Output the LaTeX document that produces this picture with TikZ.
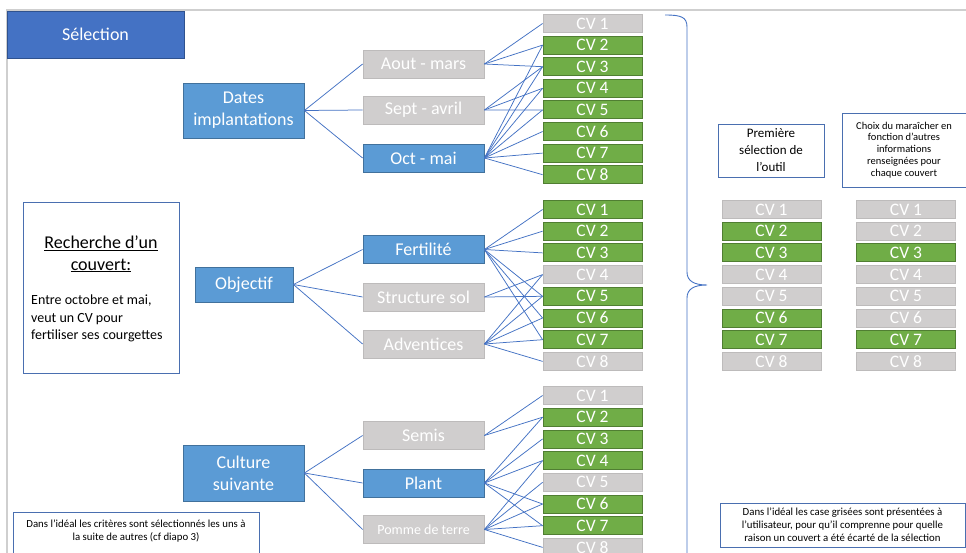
\documentclass[tikz,border=0pt]{standalone}
\usepackage{fontspec}
\setmainfont{Carlito}
\definecolor{selblue}{HTML}{4472C4}
\definecolor{selblueD}{HTML}{2F528F}
\definecolor{mblue}{HTML}{5B9BD5}
\definecolor{mblueD}{HTML}{41719C}
\definecolor{mgray}{HTML}{D0CECE}
\definecolor{mgrayD}{HTML}{BDBBBB}
\definecolor{mgreen}{HTML}{70AD47}
\definecolor{mgreenD}{HTML}{507E32}
\definecolor{lineblue}{HTML}{4472C4}
\definecolor{framegray}{HTML}{CFCFCF}
\definecolor{notebd}{HTML}{4A6FB0}
\newcommand\fbig{\fontsize{18}{22}\selectfont}
\newcommand\fcv{\fontsize{17.5}{20}\selectfont}
\newcommand\fmid{\fontsize{14}{17}\selectfont}
\newcommand\fprem{\fontsize{13}{17}\selectfont}
\newcommand\fsmall{\fontsize{10.5}{11.8}\selectfont}
\newcommand\fnote{\fontsize{10.8}{13}\selectfont}
\begin{document}
\begin{tikzpicture}[x=1pt,y=-1pt,
  box/.style={rectangle, inner sep=0pt, text=white, line width=0.8pt, font=\fbig, align=center},
  selbox/.style={box, fill=selblue, draw=selblueD},
  bluebox/.style={box, fill=mblue, draw=mblueD},
  graybox/.style={box, fill=mgray, draw=mgrayD},
  lvtwo/.style={minimum width=121, minimum height=28},
  cvg/.style={box, fill=mgray, draw=mgrayD, minimum width=99, minimum height=18, font=\fcv},
  cvG/.style={box, fill=mgreen, draw=mgreenD, minimum width=99, minimum height=18, font=\fcv},
  conn/.style={draw=lineblue, line width=0.75pt},
  notebox/.style={rectangle, draw=notebd, line width=0.8pt, fill=white, inner sep=0pt},
  txt/.style={inner sep=0pt, text=black}
  ]
\useasboundingbox (0,0) rectangle (966,553);
\clip (0,0) rectangle (966,553);
\fill[white] (0,0) rectangle (966,553);
% frame
\draw[framegray, line width=1.2pt] (7,560) -- (7,10) -- (970,10);

% title
\node[selbox, minimum width=177, minimum height=47] (sel) at (95.5,34.5) {Sélection};

% level 1
\node[bluebox, minimum width=121, minimum height=55] (dat) at (243.5,110.5) {Dates\\implantations};
\node[bluebox, minimum width=98, minimum height=35] (obj) at (244,284.5) {Objectif};
\node[bluebox, minimum width=121, minimum height=56] (cul) at (243.5,473) {Culture\\suivante};

% level 2
\node[graybox, lvtwo] (g1a) at (423.5,64) {Aout - mars};
\node[graybox, lvtwo] (g1b) at (423.5,110) {Sept - avril};
\node[bluebox, lvtwo] (g1c) at (423.5,158) {Oct - mai};
\node[bluebox, lvtwo] (g2a) at (423.5,249.5) {Fertilité};
\node[graybox, lvtwo] (g2b) at (423.5,297) {Structure sol};
\node[graybox, lvtwo] (g2c) at (423.5,344) {Adventices};
\node[graybox, lvtwo] (g3a) at (423.5,435.5) {Semis};
\node[bluebox, lvtwo] (g3b) at (423.5,483) {Plant};
\node[graybox, lvtwo, font=\fmid] (g3c) at (423.5,529.5) {Pomme de terre};

% CV columns
\foreach \i/\s in {1/cvg,2/cvG,3/cvG,4/cvG,5/cvG,6/cvG,7/cvG,8/cvG}
  \node[\s] (p1-\i) at (592.5,{23.5+(\i-1)*21.6}) {CV \i};
\foreach \i/\s in {1/cvG,2/cvG,3/cvG,4/cvg,5/cvG,6/cvG,7/cvG,8/cvg}
  \node[\s] (p2-\i) at (592.5,{209.5+(\i-1)*21.7}) {CV \i};
\foreach \i/\s in {1/cvg,2/cvG,3/cvG,4/cvG,5/cvg,6/cvG,7/cvG,8/cvg}
  \node[\s] (p3-\i) at (592.5,{395.5+(\i-1)*21.7}) {CV \i};
\foreach \i/\s in {1/cvg,2/cvG,3/cvG,4/cvg,5/cvg,6/cvG,7/cvG,8/cvg}
  \node[\s] (r1-\i) at (771.5,{209.5+(\i-1)*21.7}) {CV \i};
\foreach \i/\s in {1/cvg,2/cvg,3/cvG,4/cvg,5/cvg,6/cvg,7/cvG,8/cvg}
  \node[\s] (r2-\i) at (906,{209.5+(\i-1)*21.7}) {CV \i};

% connectors level 1 -> level 2
\foreach \k in {g1a,g1b,g1c} \draw[conn] (dat.east) -- (\k.west);
\foreach \k in {g2a,g2b,g2c} \draw[conn] (obj.east) -- (\k.west);
\foreach \k in {g3a,g3b,g3c} \draw[conn] (cul.east) -- (\k.west);

% connectors level 2 -> CV
\foreach \j in {1,2,3} \draw[conn] (g1a.east) -- (p1-\j.west);
\foreach \j in {3,4,5} \draw[conn] (g1b.east) -- (p1-\j.west);
\foreach \j in {2,...,8} \draw[conn] (g1c.east) -- (p1-\j.west);
\foreach \j in {1,2,3,5,6,7} \draw[conn] (g2a.east) -- (p2-\j.west);
\foreach \j in {4,5} \draw[conn] (g2b.east) -- (p2-\j.west);
\foreach \j in {4,...,8} \draw[conn] (g2c.east) -- (p2-\j.west);
\foreach \j in {1,2} \draw[conn] (g3a.east) -- (p3-\j.west);
\foreach \j in {2,3,4,6,7} \draw[conn] (g3b.east) -- (p3-\j.west);
\foreach \j in {4,...,8} \draw[conn] (g3c.east) -- (p3-\j.west);

% brace
\draw[lineblue, line width=0.9pt] (665,15) .. controls (681,15) and (687,17) .. (687,27)
  -- (687,272) .. controls (687,281) and (694,285) .. (707,285)
  .. controls (694,285) and (687,289) .. (687,298) -- (687,560);

% Recherche box
\node[notebox, minimum width=156, minimum height=171] (rech) at (101,287.5) {};
\node[txt, font=\fbig, anchor=base] (rt1) at (101,249) {\underline{Recherche d’un}};
\node[txt, font=\fbig, anchor=base] (rt2) at (101,270) {\underline{couvert:}};
\node[txt, font=\fmid, anchor=base west] (rb1) at (31,305) {Entre octobre et mai,};
\node[txt, font=\fmid, anchor=base west] (rb2) at (31,322) {veut un CV pour};
\node[txt, font=\fmid, anchor=base west] (rb3) at (31,339) {fertiliser ses courgettes};

% Première sélection
\node[notebox, minimum width=106, minimum height=53, font=\fprem, align=center, text=black] (prem) at (771,150.5) {Première\\sélection de\\l’outil};
% Choix du maraîcher
\node[notebox, minimum width=124, minimum height=74, font=\fsmall, align=center, text=black] (choix) at (904,150) {Choix du maraîcher en\\fonction d’autres\\informations\\renseignées pour\\chaque couvert};

% bottom notes
\node[notebox, minimum width=246, minimum height=50] (nl) at (136,537) {};
\node[txt, font=\fnote, anchor=base] (nl1) at (136,527) {Dans l’idéal les critères sont sélectionnés les uns à};
\node[txt, font=\fnote, anchor=base] (nl2) at (136,540.5) {la suite de autres (cf diapo 3)};

\node[notebox, minimum width=245, minimum height=44, font=\fnote, align=center, text=black] (nr) at (842.5,525) {Dans l’idéal les case grisées sont présentées à\\l’utilisateur, pour qu’il comprenne pour quelle\\raison un couvert a été écarté de la sélection};
\end{tikzpicture}
\end{document}
